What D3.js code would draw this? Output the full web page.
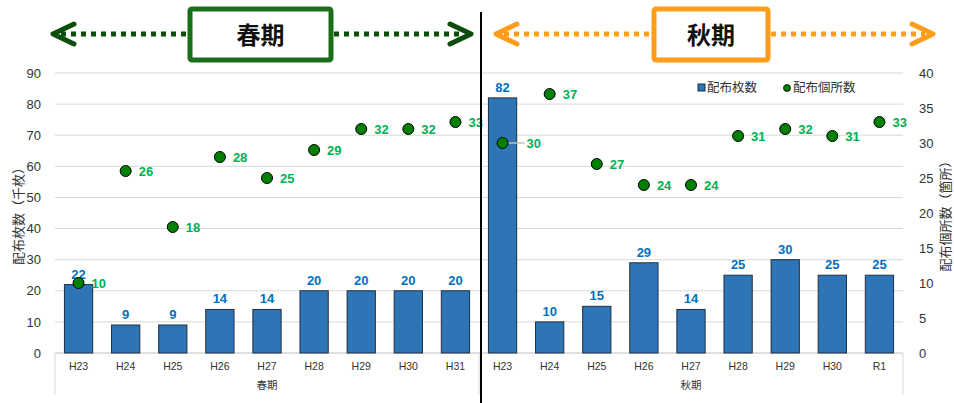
<!DOCTYPE html>
<html><head><meta charset="utf-8">
<script src="https://cdn.jsdelivr.net/npm/d3@7/dist/d3.min.js"></script>
<style>body{margin:0;background:#fff}svg{display:block;font-family:"Noto Sans CJK JP","Noto Sans",sans-serif}</style>
</head><body><svg id="c" width="954" height="403"></svg>
<script>
const years = ["H23","H24","H25","H26","H27","H28","H29","H30","H31","H23","H24","H25","H26","H27","H28","H29","H30","R1"];
const groups = ["春期","秋期"];
const sheets = [22,9,9,14,14,20,20,20,20,82,10,15,29,14,25,30,25,25];
const places = [10,26,18,28,25,29,32,32,33,30,37,27,24,24,31,32,31,33];
const leftTicks = [0,10,20,30,40,50,60,70,80,90];
const rightTicks = [0,5,10,15,20,25,30,35,40];

const svg = d3.select("#c");
const L = 55, R = 903, T = 73, B = 353;
const x = d3.scaleBand().domain(d3.range(years.length)).range([L,R]).paddingInner(0.4).paddingOuter(0.2);
const band = d3.scaleBand().domain(d3.range(years.length)).range([L,R]);
const yL = d3.scaleLinear().domain([0,90]).range([B,T]);
const yR = d3.scaleLinear().domain([0,40]).range([B,T]);

// grid
svg.append("g").selectAll("line").data(leftTicks).join("line")
  .attr("x1",L).attr("x2",R).attr("y1",d=>yL(d)).attr("y2",d=>yL(d))
  .attr("stroke",d=>d===0?"#bfbfbf":"#d9d9d9").attr("stroke-width",1);

// left axis
const ga = svg.append("g").attr("transform",`translate(${L-6},0)`)
  .call(d3.axisLeft(yL).tickValues(leftTicks).tickSize(0).tickPadding(8));
ga.select(".domain").remove();
ga.selectAll("text").attr("font-size",13).attr("fill","#333").attr("font-family","Arial, 'Liberation Sans', sans-serif");
const gr = svg.append("g").attr("transform",`translate(${R+8},0)`)
  .call(d3.axisRight(yR).tickValues(rightTicks).tickSize(0).tickPadding(8));
gr.select(".domain").remove();
gr.selectAll("text").attr("font-size",13).attr("fill","#333").attr("font-family","Arial, 'Liberation Sans', sans-serif");

// axis titles
svg.append("text").attr("transform",`translate(23,${(T+B)/2}) rotate(-90)`).attr("text-anchor","middle")
  .attr("font-size",13).attr("fill","#333").text("配布枚数（千枚）");
svg.append("text").attr("transform",`translate(950,${(T+B)/2}) rotate(-90)`).attr("text-anchor","middle")
  .attr("font-size",13).attr("fill","#333").text("配布個所数（箇所）");

// bars
svg.append("g").selectAll("rect").data(sheets).join("rect")
  .attr("x",(d,i)=>x(i)).attr("width",x.bandwidth())
  .attr("y",d=>yL(d)).attr("height",d=>B-yL(d))
  .attr("fill","#2E75B6").attr("stroke","#1f2f40").attr("stroke-width",1);

// bar labels
svg.append("g").selectAll("text").data(sheets).join("text")
  .attr("x",(d,i)=>x(i)+x.bandwidth()/2).attr("y",d=>yL(d)-6)
  .attr("text-anchor","middle").attr("font-size",13).attr("font-weight","bold")
  .attr("fill","#0070C0").attr("font-family","Arial, 'Liberation Sans', sans-serif").text(d=>d);

// leader line for autumn H23
svg.append("line").attr("x1",band(9)+band.bandwidth()/2).attr("x2",band(9)+band.bandwidth()/2+22)
  .attr("y1",yR(places[9])).attr("y2",yR(places[9])).attr("stroke","#bfbfbf").attr("stroke-width",1.5);

// dots
svg.append("g").selectAll("circle").data(places).join("circle")
  .attr("cx",(d,i)=>band(i)+band.bandwidth()/2).attr("cy",d=>yR(d)).attr("r",5.5)
  .attr("fill","#008000").attr("stroke","#000").attr("stroke-width",1);
svg.append("g").selectAll("text").data(places).join("text")
  .attr("x",(d,i)=>band(i)+band.bandwidth()/2+(i===9?24:13)).attr("y",d=>yR(d)+5)
  .attr("font-size",13).attr("font-weight","bold")
  .attr("fill","#00B050").attr("font-family","Arial, 'Liberation Sans', sans-serif").text(d=>d);

// category axis
svg.append("g").selectAll("text").data(years).join("text")
  .attr("x",(d,i)=>band(i)+band.bandwidth()/2).attr("y",370)
  .attr("text-anchor","middle").attr("font-size",10.5).attr("fill","#333")
  .attr("font-family","Arial, 'Liberation Sans', sans-serif").text(d=>d);
svg.append("g").selectAll("text").data(groups).join("text")
  .attr("x",(d,i)=>band(i*9)+band.bandwidth()*4.5).attr("y",389)
  .attr("text-anchor","middle").attr("font-size",10.5).attr("fill","#333").text(d=>d);
svg.append("g").selectAll("line").data([0,9,18]).join("line")
  .attr("x1",d=>d===18?R:band(d)).attr("x2",d=>d===18?R:band(d))
  .attr("y1",B).attr("y2",395).attr("stroke","#d9d9d9");

// legend
const lg = svg.append("g").attr("transform","translate(698,88)");
lg.append("rect").attr("x",0).attr("y",-4).attr("width",7).attr("height",7).attr("fill","#2E75B6").attr("stroke","#1f2f40");
lg.append("text").attr("x",9).attr("y",4).attr("font-size",12.5).attr("fill","#333").text("配布枚数");
lg.append("circle").attr("cx",89).attr("cy",0).attr("r",3.5).attr("fill","#008000").attr("stroke","#000").attr("stroke-width",0.8);
lg.append("text").attr("x",95).attr("y",4).attr("font-size",12.5).attr("fill","#333").text("配布個所数");

// divider
svg.append("line").attr("x1",481).attr("x2",481).attr("y1",12).attr("y2",403).attr("stroke","#000").attr("stroke-width",2);

// headers
function header(c, x0, x1, bx0, bx1, label){
  const y = 34;
  const g = svg.append("g");
  g.append("line").attr("x1",x0+8).attr("x2",bx0).attr("y1",y).attr("y2",y)
    .attr("stroke",c).attr("stroke-width",5).attr("stroke-dasharray","5,5");
  g.append("line").attr("x1",bx1+3).attr("x2",x1-8).attr("y1",y).attr("y2",y)
    .attr("stroke",c).attr("stroke-width",5).attr("stroke-dasharray","5,5");
  g.append("polyline").attr("points",`${x0+21},${y-10} ${x0},${y} ${x0+21},${y+10}`)
    .attr("fill","none").attr("stroke",c).attr("stroke-width",5).attr("stroke-linecap","round").attr("stroke-linejoin","round");
  g.append("polyline").attr("points",`${x1-21},${y-10} ${x1},${y} ${x1-21},${y+10}`)
    .attr("fill","none").attr("stroke",c).attr("stroke-width",5).attr("stroke-linecap","round").attr("stroke-linejoin","round");
  g.append("rect").attr("x",bx0).attr("y",9).attr("width",bx1-bx0).attr("height",51).attr("rx",2)
    .attr("fill","#fff").attr("stroke",c==="#0b4d0b"?"#1a6e1a":c).attr("stroke-width",5);
  g.append("text").attr("x",(bx0+bx1)/2).attr("y",44).attr("text-anchor","middle")
    .attr("font-size",24).attr("font-weight","bold").attr("fill","#111").text(label);
}
header("#0b4d0b", 53, 471, 190, 331, "春期");
header("#FF9C1A", 496, 933, 654, 768, "秋期");
</script></body></html>
